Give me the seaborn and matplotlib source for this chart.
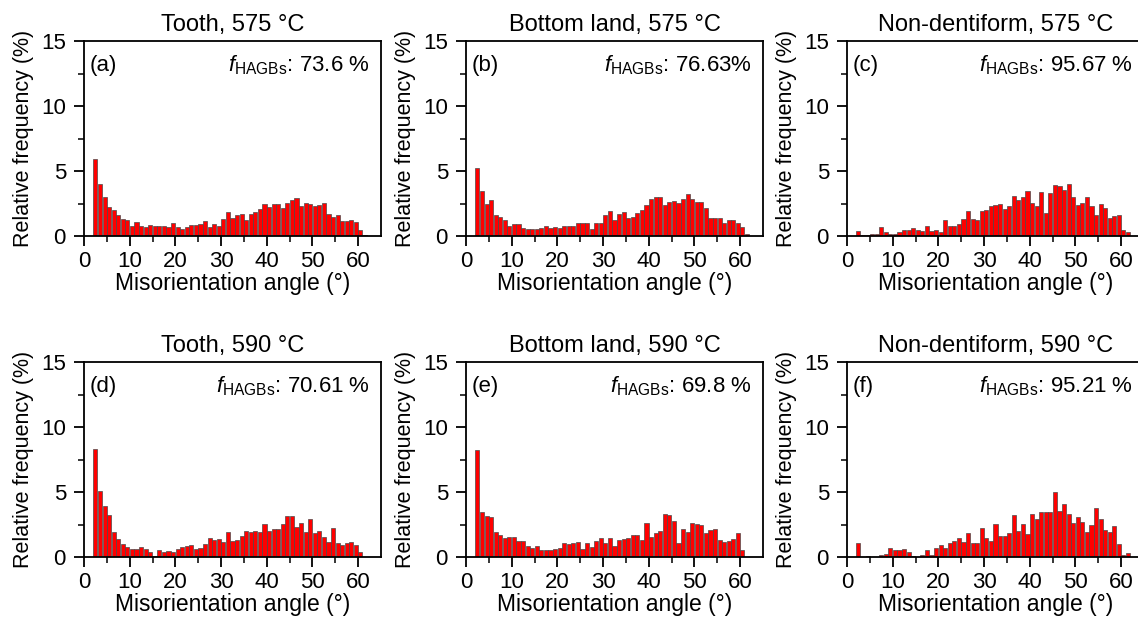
import numpy as np
import pandas as pd
import matplotlib
matplotlib.use("Agg")
import matplotlib.pyplot as plt
import seaborn as sns

# ------------------------------
# Data (relative frequency %, 1° bins from 2° to 62°)
# ------------------------------
bin_left = list(range(2, 62))

tooth_575 = [5.9, 4.0, 3.0, 2.26, 2.0, 1.6, 1.32, 1.2, 0.76, 1.07,
             0.79, 0.71, 0.84, 0.79, 0.74, 0.74, 0.66, 0.99, 0.69, 0.56,
             0.66, 0.84, 0.81, 0.89, 1.15, 0.71, 0.94, 0.79, 1.3, 1.86,
             1.37, 1.58, 1.73, 1.22, 1.68, 1.83, 2.09, 2.49, 2.21, 2.44,
             2.49, 2.16, 2.52, 2.8, 2.93, 2.34, 2.57, 2.44, 2.29, 2.37,
             2.54, 1.68, 1.45, 1.6, 1.15, 1.15, 1.2, 1.04, 0.43, 0.1]

bottom_575 = [5.24, 3.49, 2.49, 2.8, 1.6, 1.45, 1.2, 0.79, 0.89, 0.89,
              0.61, 0.51, 0.56, 0.56, 0.64, 0.79, 0.64, 0.69, 0.64, 0.79,
              0.74, 0.79, 1.02, 1.02, 0.97, 0.53, 1.02, 0.97, 1.6, 1.91,
              1.2, 1.68, 1.86, 1.4, 1.5, 1.78, 2.01, 2.39, 2.88, 3.03,
              3.03, 2.39, 2.65, 2.72, 2.54, 2.88, 3.23, 2.88, 2.65, 2.65,
              2.16, 1.35, 1.4, 1.4, 1.02, 1.25, 1.2, 1.02, 0.69, 0.13]

nondent_575 = [0.38, 0.05, 0.05, 0.13, 0.13, 0.69, 0.3, 0.13, 0.18, 0.3,
               0.48, 0.43, 0.64, 0.48, 0.38, 0.74, 0.38, 0.43, 0.3, 1.2,
               0.74, 0.74, 0.92, 1.3, 1.91, 1.3, 1.22, 1.96, 1.98, 2.29,
               2.39, 2.47, 2.09, 2.29, 3.1, 2.8, 3.03, 3.44, 2.54, 2.29,
               3.36, 1.76, 3.28, 3.92, 3.87, 3.54, 4.0, 2.98, 2.39, 2.54,
               2.98, 2.34, 1.58, 2.49, 2.16, 1.35, 1.55, 1.65, 0.48, 0.3]

tooth_590 = [8.3, 5.04, 3.9, 3.25, 1.9, 1.35, 0.99, 0.78, 0.6, 0.6,
             0.75, 0.65, 0.42, 0.1, 0.52, 0.39, 0.47, 0.39, 0.6, 0.75,
             0.88, 0.94, 0.6, 0.7, 0.99, 1.45, 1.27, 1.35, 1.12, 1.9,
             1.22, 1.32, 1.61, 1.97, 1.9, 1.97, 1.9, 2.52, 2.03, 2.13,
             2.16, 2.57, 3.19, 3.14, 2.34, 2.6, 1.9, 2.91, 1.84, 2.03,
             1.51, 1.12, 2.23, 1.06, 0.94, 1.06, 1.19, 0.94, 0.39, 0.0]

bottom_590 = [8.25, 3.43, 3.17, 3.09, 1.95, 1.71, 1.43, 1.51, 1.51, 1.22,
              1.22, 0.86, 0.68, 0.86, 0.57, 0.57, 0.57, 0.65, 0.7, 1.04,
              0.99, 1.04, 1.14, 0.6, 1.04, 0.75, 1.22, 1.48, 1.09, 1.43,
              0.81, 1.27, 1.38, 1.48, 1.71, 1.66, 1.32, 2.62, 1.53, 1.84,
              2.0, 3.32, 3.25, 2.78, 1.09, 2.16, 1.95, 2.62, 2.57, 2.44,
              1.82, 2.05, 2.16, 1.27, 1.14, 1.22, 1.38, 1.84, 0.55, 0.0]

nondent_590 = [1.04, 0.0, 0.08, 0.0, 0.0, 0.18, 0.23, 0.7, 0.52, 0.57,
               0.62, 0.36, 0.08, 0.0, 0.18, 0.52, 0.18, 0.73, 0.91, 0.73,
               1.09, 1.25, 1.43, 1.14, 1.82, 1.09, 1.09, 2.26, 1.48, 1.22,
               2.55, 1.58, 1.58, 1.87, 3.22, 2.03, 2.55, 1.77, 3.27, 2.94,
               3.48, 3.48, 3.48, 5.0, 3.53, 4.1, 3.27, 2.62, 3.06, 2.68,
               1.9, 2.49, 3.79, 2.96, 2.08, 1.9, 2.39, 0.99, 0.18, 0.31]

titles = ["Tooth, 575 °C", "Bottom land, 575 °C", "Non-dentiform, 575 °C",
          "Tooth, 590 °C", "Bottom land, 590 °C", "Non-dentiform, 590 °C"]
letters = ["(a)", "(b)", "(c)", "(d)", "(e)", "(f)"]
f_values = ["73.6 %", "76.63%", "95.67 %", "70.61 %", "69.8 %", "95.21 %"]
series = [tooth_575, bottom_575, nondent_575, tooth_590, bottom_590, nondent_590]

# ------------------------------
# Style
# ------------------------------
sns.set_style("ticks")
plt.rcParams["font.family"] = ["Liberation Sans", "DejaVu Sans"]
plt.rcParams["mathtext.fontset"] = "custom"
plt.rcParams["mathtext.rm"] = "Liberation Sans"
plt.rcParams["mathtext.it"] = "Liberation Sans:italic"
plt.rcParams["axes.linewidth"] = 1.3
plt.rcParams["axes.edgecolor"] = "black"
plt.rcParams["text.color"] = "black"
plt.rcParams["axes.labelcolor"] = "black"
plt.rcParams["xtick.color"] = "black"
plt.rcParams["ytick.color"] = "black"

W, H = 1138, 624
fig = plt.figure(figsize=(W / 100, H / 100), dpi=100)

col_left = [84, 466, 847]
row_top = [41, 362]
ax_w, ax_h = 297, 195
fs = 16

for i, vals in enumerate(series):
    r, c = divmod(i, 3)
    left = col_left[c]
    top = row_top[r]
    ax = fig.add_axes([left / W, 1 - (top + ax_h) / H, ax_w / W, ax_h / H])

    df = pd.DataFrame({"angle": [b + 0.5 for b in bin_left], "freq": vals})
    sns.histplot(data=df, x="angle", weights="freq", binwidth=1, binrange=(2, 62),
                 shrink=0.9, color="#ff0000", alpha=1, edgecolor="#4a4a4a",
                 linewidth=0.5, ax=ax)

    ax.set_xlim(0, 65)
    ax.set_ylim(0, 15)
    ax.set_xticks(range(0, 61, 10))
    ax.set_xticks(range(5, 61, 10), minor=True)
    ax.set_yticks([0, 5, 10, 15])
    ax.set_yticks([2.5, 7.5, 12.5], minor=True)
    ax.tick_params(which="major", direction="out", length=7, width=1.3,
                   labelsize=fs, colors="black")
    ax.tick_params(axis="x", which="major", pad=4)
    ax.tick_params(axis="y", which="major", pad=6)
    ax.tick_params(which="minor", direction="out", length=4, width=1.1)
    for s in ax.spines.values():
        s.set_visible(True)
        s.set_linewidth(1.3)

    ax.set_xlabel("Misorientation angle (°)", fontsize=16.5, labelpad=0)
    ax.set_ylabel("Relative frequency (%)", fontsize=15.5, labelpad=5)
    ax.set_title(titles[i], fontsize=17, pad=7)

    ax.text(0.02, 0.845, letters[i], transform=ax.transAxes, fontsize=fs,
            ha="left", va="baseline")
    ax.text(0.963, 0.845, r"$f_{\mathrm{HAGBs}}$: " + f_values[i],
            transform=ax.transAxes, fontsize=fs, ha="right", va="baseline")

fig.savefig("out.png", dpi=100)
